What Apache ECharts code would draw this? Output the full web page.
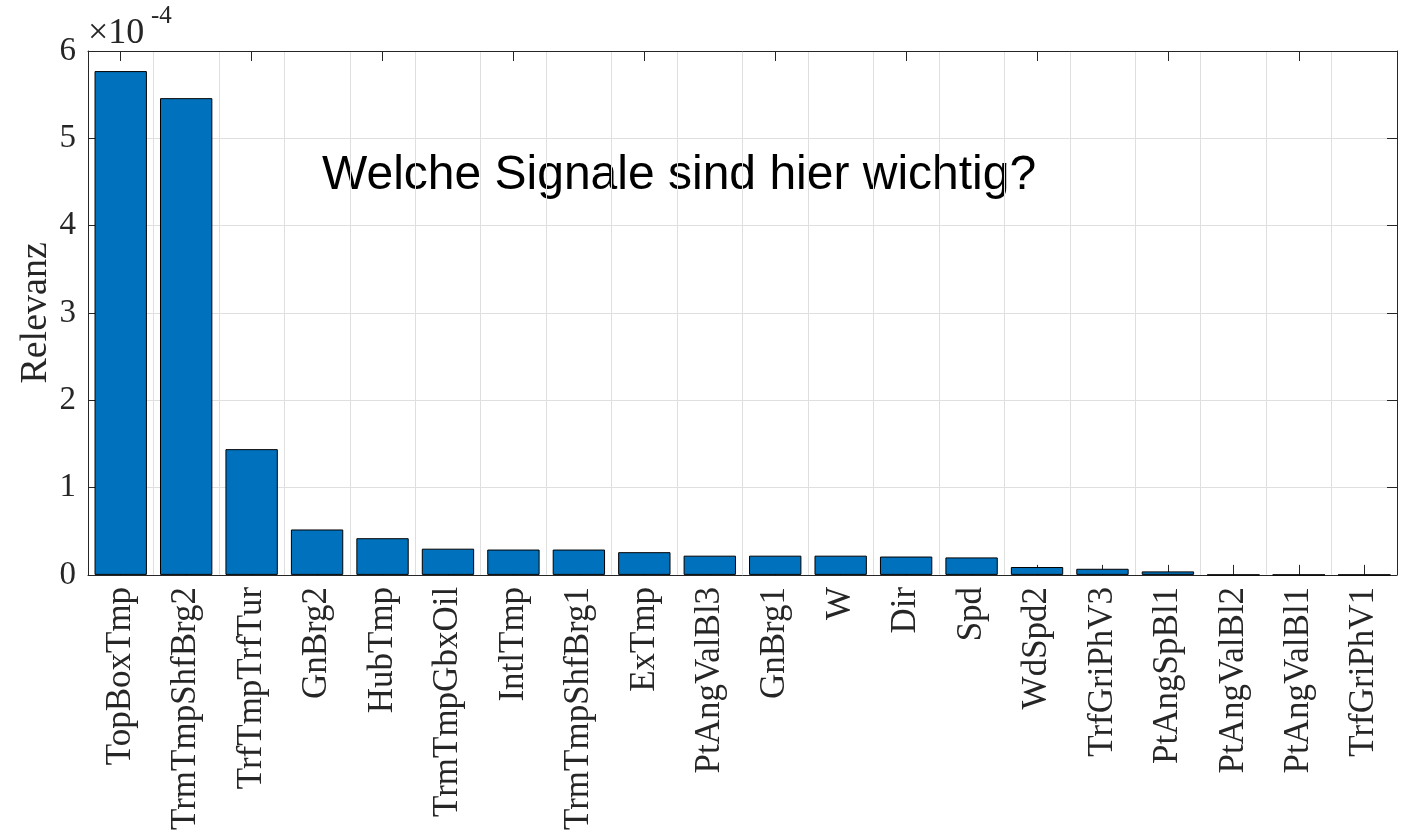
<!DOCTYPE html>
<html>
<head>
<meta charset="utf-8">
<script src="https://cdn.jsdelivr.net/npm/echarts@6/dist/echarts.min.js"></script>
<style>
  html, body { margin: 0; padding: 0; background: #fff; }
  #chart { width: 1412px; height: 833px; }
</style>
</head>
<body>
<div id="chart"></div>
<script>
// signal names, sorted by relevance
const signals = [
  'TopBoxTmp', 'TrmTmpShfBrg2', 'TrfTmpTrfTur', 'GnBrg2', 'HubTmp',
  'TrmTmpGbxOil', 'IntlTmp', 'TrmTmpShfBrg1', 'ExTmp', 'PtAngValBl3',
  'GnBrg1', 'W', 'Dir', 'Spd', 'WdSpd2',
  'TrfGriPhV3', 'PtAngSpBl1', 'PtAngValBl2', 'PtAngValBl1', 'TrfGriPhV1',
];

// relevance (real values, axis shows them x 1e-4)
const relevance = [
  5.77e-4, 5.46e-4, 1.44e-4, 0.52e-4, 0.42e-4,
  0.30e-4, 0.29e-4, 0.29e-4, 0.26e-4, 0.22e-4,
  0.22e-4, 0.22e-4, 0.21e-4, 0.20e-4, 0.09e-4,
  0.07e-4, 0.04e-4, 0, 0, 0,
];

const SCALE = 1e-4;
const yTicks = [0, 1, 2, 3, 4, 5, 6];

const AXIS_COLOR = '#262626';
const GRID_COLOR = '#dfdfdf';
const SERIF = '"Liberation Serif", "Times New Roman", serif';

const chart = echarts.init(document.getElementById('chart'));

const yAxisBase = {
  type: 'value',
  min: yTicks[0] * SCALE,
  max: yTicks[yTicks.length - 1] * SCALE,
  interval: SCALE,
  axisLine: { show: true, lineStyle: { color: AXIS_COLOR, width: 1 } },
  axisTick: { show: true, inside: true, length: 10, lineStyle: { color: AXIS_COLOR } },
};

const xAxisBase = {
  type: 'category',
  data: signals,
  boundaryGap: true,
  axisLine: { show: true, onZero: false, lineStyle: { color: AXIS_COLOR, width: 1 } },
  axisTick: { show: true, inside: true, alignWithLabel: true, length: 10, lineStyle: { color: AXIS_COLOR } },
};

const option = {
  animation: false,
  grid: { left: 88, right: 15, top: 51, bottom: 255, containLabel: false },
  xAxis: [
    {
      ...xAxisBase,
      position: 'bottom',
      axisLabel: {
        rotate: 90,
        interval: 0,
        margin: 12,
        color: AXIS_COLOR,
        fontFamily: SERIF,
        fontSize: 35,
      },
      splitLine: { show: true, lineStyle: { color: GRID_COLOR, width: 1 } },
    },
    {
      ...xAxisBase,
      position: 'top',
      axisLabel: { show: false },
      splitLine: { show: false },
    },
  ],
  yAxis: [
    {
      ...yAxisBase,
      position: 'left',
      name: 'Relevanz',
      nameLocation: 'middle',
      nameGap: 33,
      nameMoveOverlap: false,
      nameTextStyle: { color: AXIS_COLOR, fontFamily: SERIF, fontSize: 38 },
      axisLabel: {
        margin: 12,
        color: AXIS_COLOR,
        fontFamily: SERIF,
        fontSize: 33,
        formatter: (v) => String(Math.round(v / SCALE)),
      },
      splitLine: { show: true, lineStyle: { color: GRID_COLOR, width: 1 } },
    },
    {
      ...yAxisBase,
      position: 'right',
      axisLabel: { show: false },
      splitLine: { show: false },
    },
  ],
  graphic: [
    {
      type: 'text',
      left: 88,
      top: 16,
      style: { text: '×10', fontFamily: SERIF, fontSize: 36, fill: AXIS_COLOR },
    },
    {
      type: 'text',
      left: 151,
      top: 4,
      style: { text: '-4', fontFamily: SERIF, fontSize: 25, fill: AXIS_COLOR },
    },
    {
      type: 'text',
      left: 322,
      top: 152,
      style: {
        text: 'Welche Signale sind hier wichtig?',
        fontFamily: '"Liberation Sans", Arial, sans-serif',
        fontSize: 48,
        fill: '#000',
      },
    },
  ],
  series: [
    {
      type: 'bar',
      data: relevance,
      barCategoryGap: '20%',
      itemStyle: { color: '#0072BD', borderColor: '#000', borderWidth: 1 },
    },
  ],
};

chart.setOption(option);
</script>
</body>
</html>
